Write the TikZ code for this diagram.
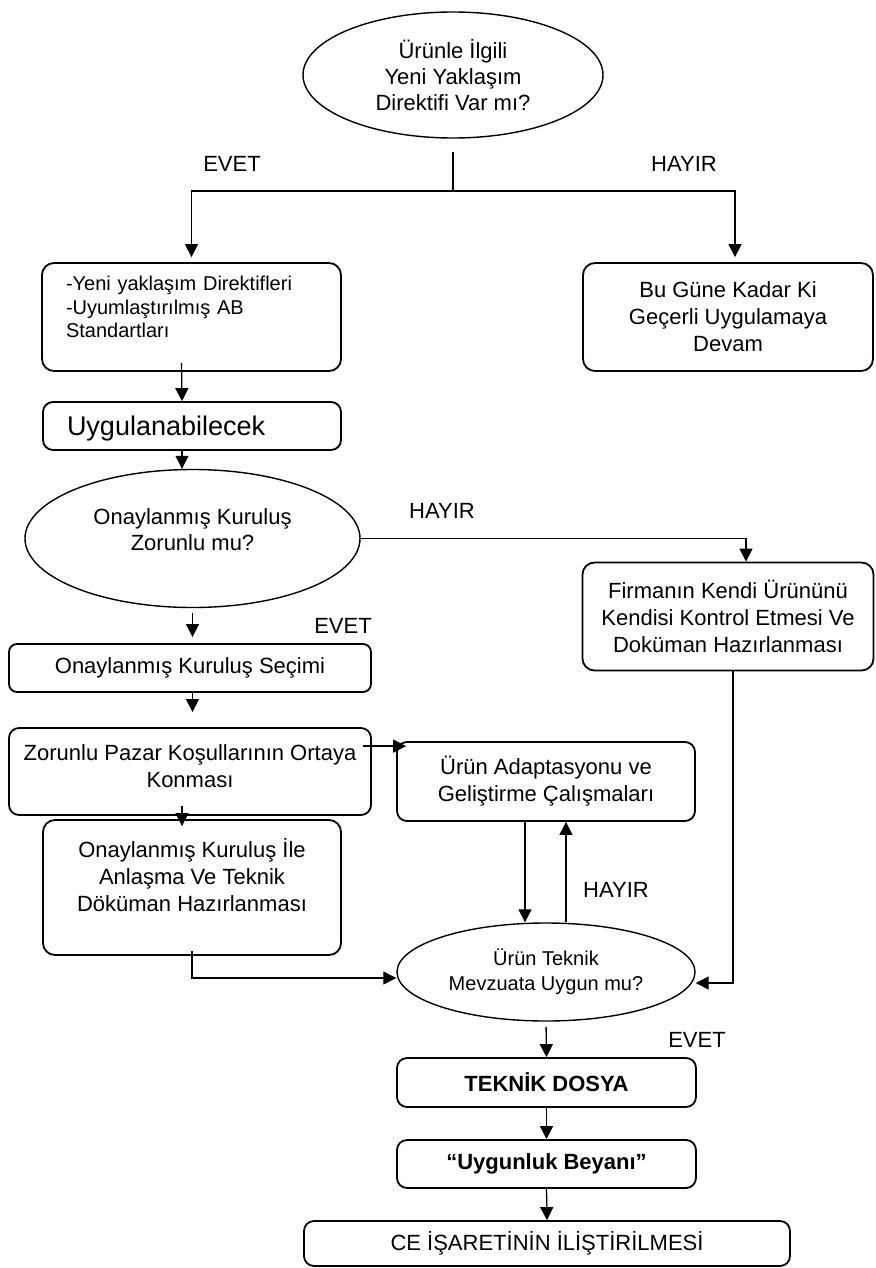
\documentclass[tikz,border=0pt]{standalone}
\usepackage{fontspec}
\setmainfont{Liberation Sans}
\usetikzlibrary{arrows.meta,shapes.geometric,calc}

\begin{document}
\begin{tikzpicture}[x=0.5pt, y=-0.5pt,
  box/.style={draw, line width=0.9pt, rounded corners=5pt, inner sep=0pt, align=center,
    font=\fontsize{11}{13.5}\selectfont},
  qell/.style={draw, ellipse, line width=0.7pt, inner sep=0pt, align=center,
    font=\fontsize{11}{13}\selectfont},
  arr/.style={line width=0.65pt, -{Triangle[length=6.5pt,width=6.5pt]}},
  conn/.style={line width=0.65pt},
  lbl/.style={font=\fontsize{11}{13}\selectfont}]

  \useasboundingbox (0,0) rectangle (875,1268);

  % questions
  \node[qell, minimum width=150pt, minimum height=63pt] (q1) at (453,75)
    {Ürünle İlgili\\Yeni Yaklaşım\\Direktifi Var mı?};
  \node[qell, minimum width=167.5pt, minimum height=69pt] (q2) at (192.5,538.5)
    {Onaylanmış Kuruluş\\Zorunlu mu?\\[-4.5pt]\mbox{}};
  \node[qell, minimum width=149pt, minimum height=49pt, font=\fontsize{10}{12.5}\selectfont] (q3) at (546,972)
    {Ürün Teknik\\Mevzuata Uygun mu?};
  %
  % boxes
  \node[box, minimum width=149.5pt, minimum height=54pt, text width=125.5pt, align=left,
    font=\fontsize{10}{11.75}\selectfont, rounded corners=6pt] (b1) at (191.5,317)
    {-Yeni yaklaşım Direktifleri\\-Uyumlaştırılmış AB\\Standartları\\[-2pt]\mbox{}};
  \node[box, minimum width=145pt, minimum height=54pt, rounded corners=6pt] (b2) at (728,317)
    {Bu Güne Kadar Ki\\Geçerli Uygulamaya\\Devam};
  \node[box, minimum width=149pt, minimum height=24pt, text width=125pt, align=left,
    font=\fontsize{13.5}{15}\selectfont, text depth=0pt] (b3) at (192,426) {Uygulanabilecek};
  \node[box, minimum width=181pt, minimum height=24pt, rounded corners=4pt] (b4) at (190,668)
    {Onaylanmış Kuruluş Seçimi};
  \node[box, minimum width=145.5pt, minimum height=54pt, rounded corners=6pt] (b5) at (728,616.5)
    {Firmanın Kendi Ürününü\\Kendisi Kontrol Etmesi Ve\\Doküman Hazırlanması};
  \node[box, minimum width=181pt, minimum height=43.5pt] (b6) at (190,771.5)
    {Zorunlu Pazar Koşullarının Ortaya\\Konması\\[-8pt]\mbox{}};
  \node[box, minimum width=149pt, minimum height=39.5pt] (b7) at (546,781.5)
    {Ürün Adaptasyonu ve\\Geliştirme Çalışmaları};
  \node[box, minimum width=149pt, minimum height=67.5pt, rounded corners=6pt] (b8) at (192,887.5)
    {Onaylanmış Kuruluş İle\\Anlaşma Ve Teknik\\Döküman Hazırlanması\\[-1pt]\mbox{}};
  \node[box, minimum width=149.5pt, minimum height=24.5pt, font=\fontsize{11}{13}\bfseries] (b9) at (546.5,1082.5)
    {TEKNİK DOSYA};
  \node[box, minimum width=149.5pt, minimum height=24pt, font=\fontsize{11}{13}\bfseries] (b10) at (546.5,1164)
    {“Uygunluk Beyanı”};
  \node[box, minimum width=243pt, minimum height=22.5pt] (b11) at (547,1243.5)
    {CE İŞARETİNİN İLİŞTİRİLMESİ};
  %
  % labels
  \node[lbl] (evet1) at (232,164) {EVET};
  \node[lbl] (hayir1) at (684,164) {HAYIR};
  \node[lbl] (hayir2) at (442,511) {HAYIR};
  \node[lbl] (evet2) at (343,626) {EVET};
  \node[lbl] (hayir3) at (616,890) {HAYIR};
  \node[lbl] (evet3) at (697,1040) {EVET};
  %
  % connectors
  \coordinate (split) at (453,191);
  \draw[conn] ([yshift=-6.5pt]q1.south) -- (split);
  \draw[arr, shorten >=2.5pt] (split) -| (b1.north);
  \draw[arr, shorten >=2.5pt] (split) -| ([xshift=3.5pt]b2.north);
  %
  \draw[arr] ([xshift=-5pt,yshift=4.5pt]b1.south) -- ([xshift=-5pt]b3.north);
  \draw[arr] ([xshift=-5pt]b3.south) -- ([xshift=-5pt]b3.south |- q2.north);
  \draw[arr] (q2.east) -| ([xshift=9pt]b5.north);
  \draw[arr, shorten <=2.5pt, shorten >=3pt] (q2.south) -- (q2.south |- b4.north);
  \draw[arr, shorten >=7.5pt] (b4.south -| q2.south) -- (b6.north -| q2.south);
  %
  \coordinate (adpin) at ([xshift=5pt,yshift=-2.5pt]b7.north west);
  \draw[arr] ([xshift=-4.5pt]b6.east |- adpin) -- (adpin);
  \draw[arr] ([xshift=-4pt,yshift=5pt]b6.south) -- ([xshift=-4pt,yshift=-3.5pt]b6.south |- b8.north);
  \draw[arr] ([yshift=2.5pt]b8.south) |- ([yshift=-3pt]q3.west);
  %
  \draw[arr] ([xshift=-10.5pt]b7.south) -- ([xshift=-10.5pt]b7.south |- q3.north);
  \draw[arr] ([xshift=10pt]q3.north) -- ([xshift=10pt]q3.north |- b7.south);
  \draw[arr] ([xshift=2.5pt]b5.south) |- ([yshift=-5.5pt]q3.east);
  %
  \draw[arr, shorten <=2.5pt] (q3.south) -- (b9.north);
  \draw[arr] (b9.south) -- (b10.north);
  \draw[arr] (b10.south) -- (b11.north);
\end{tikzpicture}
\end{document}
